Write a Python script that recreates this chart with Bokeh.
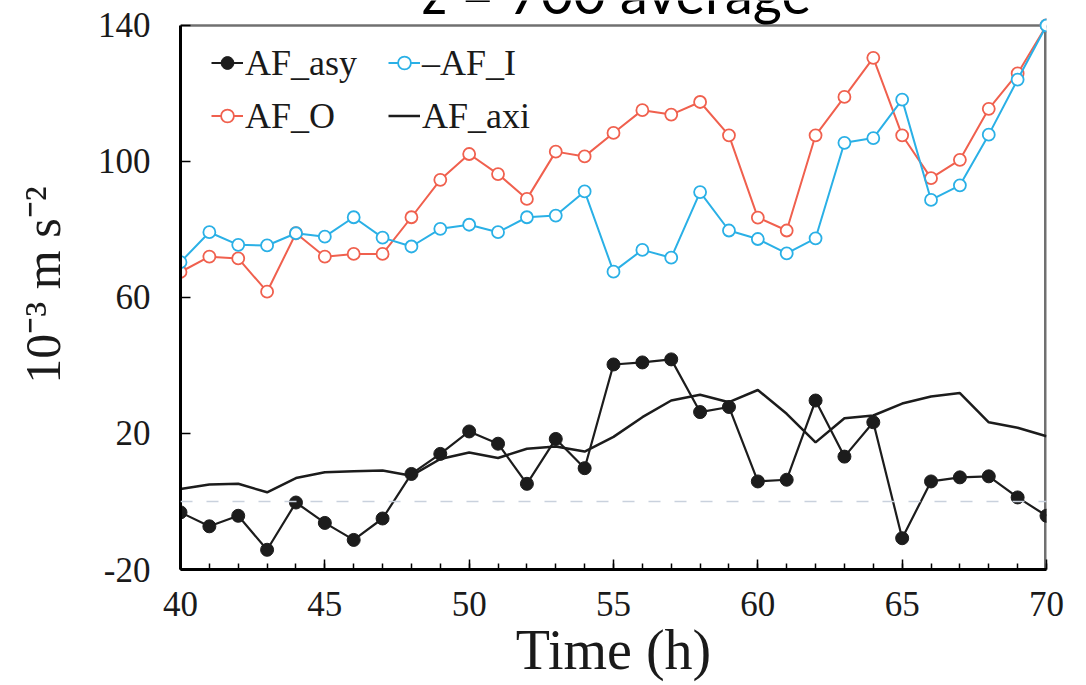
from bokeh.plotting import figure
from bokeh.models import Range1d, FixedTicker, Span, Legend, LegendItem
from bokeh.core.properties import value
from bokeh.embed import file_html
from bokeh.resources import INLINE

hours = list(range(40, 71))

af_asy = [-3.2, -7.3, -4.2, -14.2, -0.3, -6.3, -11.3, -5.0, 8.1, 14.0, 20.6, 17.0, 5.2, 18.4, 9.8, 40.3,
          40.9, 41.8, 26.3, 27.8, 5.9, 6.4, 29.7, 13.2, 23.3, -10.8, 5.9, 7.1, 7.4, 1.2, -4.2]
af_i = [70.4, 79.2, 75.5, 75.3, 78.9, 77.9, 83.6, 77.6, 75.0, 80.2, 81.4, 79.2, 83.6, 84.1, 91.2, 67.6,
        74.0, 71.7, 91.0, 79.7, 77.2, 73.0, 77.4, 105.5, 106.9, 118.2, 88.7, 93.0, 107.9, 124.1, 140.0]
af_o = [67.5, 72.0, 71.5, 61.7, 78.9, 72.0, 72.8, 72.8, 83.6, 94.6, 102.2, 96.3, 89.0, 102.9, 101.5, 108.4,
        115.1, 113.8, 117.5, 107.7, 83.5, 79.7, 107.7, 119.0, 130.5, 107.7, 95.1, 100.5, 115.5, 125.9, 140.0]
af_axi = [3.7, 5.0, 5.2, 2.7, 6.9, 8.6, 8.9, 9.1, 7.6, 12.5, 14.4, 12.8, 15.5, 16.2, 14.7, 19.0,
          24.8, 29.7, 31.4, 29.2, 32.8, 25.8, 17.4, 24.5, 25.3, 28.8, 30.9, 31.9, 23.3, 21.7, 19.2]

x_ticks = [40, 45, 50, 55, 60, 65, 70]
y_ticks = [-20, 20, 60, 100, 140]
y_tick_labels = {-20: "-20", 20: "20", 60: "60", 100: "100", 140: "140"}
title_text = "z = 700 average"

X_MIN, X_MAX = 40, 70
Y_MIN, Y_MAX = -20, 140

BLACK = "#1c1c1c"
RED = "#f0604e"
BLUE = "#2ab0e6"
GRAY = "#707070"
SERIF = "Liberation Serif"

# frame reaches the top of the canvas so the (cut-off) title can sit above the 140 line
p = figure(width=1086, height=685, output_backend="svg", toolbar_location=None,
           x_range=Range1d(X_MIN, X_MAX), y_range=Range1d(Y_MIN, 147.35),
           min_border_left=180, min_border_right=40, min_border_top=0, min_border_bottom=116)
p.xgrid.visible = False
p.ygrid.visible = False
p.background_fill_color = "white"
p.border_fill_color = "white"
p.outline_line_color = None

# box border (top and right, gray)
p.line([X_MIN, X_MAX], [Y_MAX, Y_MAX], line_color=GRAY, line_width=2.5)
p.line([X_MAX, X_MAX], [Y_MIN, Y_MAX], line_color=GRAY, line_width=5)

zero = Span(location=0, dimension="width", line_color="#c9d1dd", line_width=1.6, line_dash="12 14")
p.add_layout(zero)

r_axi = p.line(hours, af_axi, line_color=BLACK, line_width=2.5)
r_o_l = p.line(hours, af_o, line_color=RED, line_width=2)
r_o_m = p.scatter(hours, af_o, marker="circle", size=12, line_color=RED, line_width=1.8, fill_color="white")
r_i_l = p.line(hours, af_i, line_color=BLUE, line_width=2)
r_i_m = p.scatter(hours, af_i, marker="circle", size=12, line_color=BLUE, line_width=1.8, fill_color="white")
r_a_l = p.line(hours, af_asy, line_color=BLACK, line_width=2.2)
r_a_m = p.scatter(hours, af_asy, marker="circle", size=13, line_color=BLACK, fill_color=BLACK)

p.text(x=[55.1], y=[Y_MAX + 9.7], text=[title_text], text_align="center", text_baseline="alphabetic",
       text_font=value("Lato"), text_font_size="56px", text_color="black")

# axes
p.xaxis.ticker = FixedTicker(ticks=x_ticks, minor_ticks=hours)
p.yaxis.ticker = FixedTicker(ticks=y_ticks)
p.yaxis.bounds = (Y_MIN, Y_MAX)
p.yaxis.major_label_overrides = y_tick_labels
for ax in (p.xaxis[0], p.yaxis[0]):
    ax.axis_line_color = "black"
    ax.axis_line_width = 3
    ax.major_tick_in = 10
    ax.major_tick_out = 0
    ax.minor_tick_in = 6
    ax.minor_tick_out = 0
    ax.major_tick_line_color = "black"
    ax.major_tick_line_width = 1.5
    ax.minor_tick_line_width = 1.5
    ax.major_label_text_font = SERIF
    ax.major_label_text_font_size = "35px"
    ax.major_label_text_color = "#1a1a1a"
    ax.axis_label_text_font = SERIF
    ax.axis_label_text_font_style = "normal"
    ax.axis_label_text_color = "#1a1a1a"
p.yaxis.minor_tick_line_color = None
p.xaxis.minor_tick_line_color = "black"
p.xaxis.major_label_standoff = 22
p.yaxis.major_label_standoff = 30
p.xaxis.axis_label = "Time (h)"
p.xaxis.axis_label_text_font_size = "56px"
p.xaxis.axis_label_standoff = 0
p.yaxis.axis_label = "10\u207b\u00b3 m s\u207b\u00b2"
p.yaxis.axis_label_text_font_size = "50px"
p.yaxis.axis_label_standoff = 24

# legends
def make_legend(items, x, y):
    lg = Legend(items=items, location=(x, y), orientation="vertical",
                label_text_font=SERIF, label_text_font_size="36px", label_text_color="#1a1a1a",
                glyph_width=32, glyph_height=45, label_height=45, spacing=8, padding=0, margin=0,
                label_standoff=2, border_line_color=None, background_fill_alpha=0)
    p.add_layout(lg)

make_legend([LegendItem(label="AF_asy", renderers=[r_a_l, r_a_m]),
             LegendItem(label="AF_O", renderers=[r_o_l, r_o_m])], 31, 431)
make_legend([LegendItem(label="\u2013AF_I", renderers=[r_i_l, r_i_m]),
             LegendItem(label="AF_axi", renderers=[r_axi])], 208, 431)

open("out.html", "w").write(file_html(p, INLINE))
